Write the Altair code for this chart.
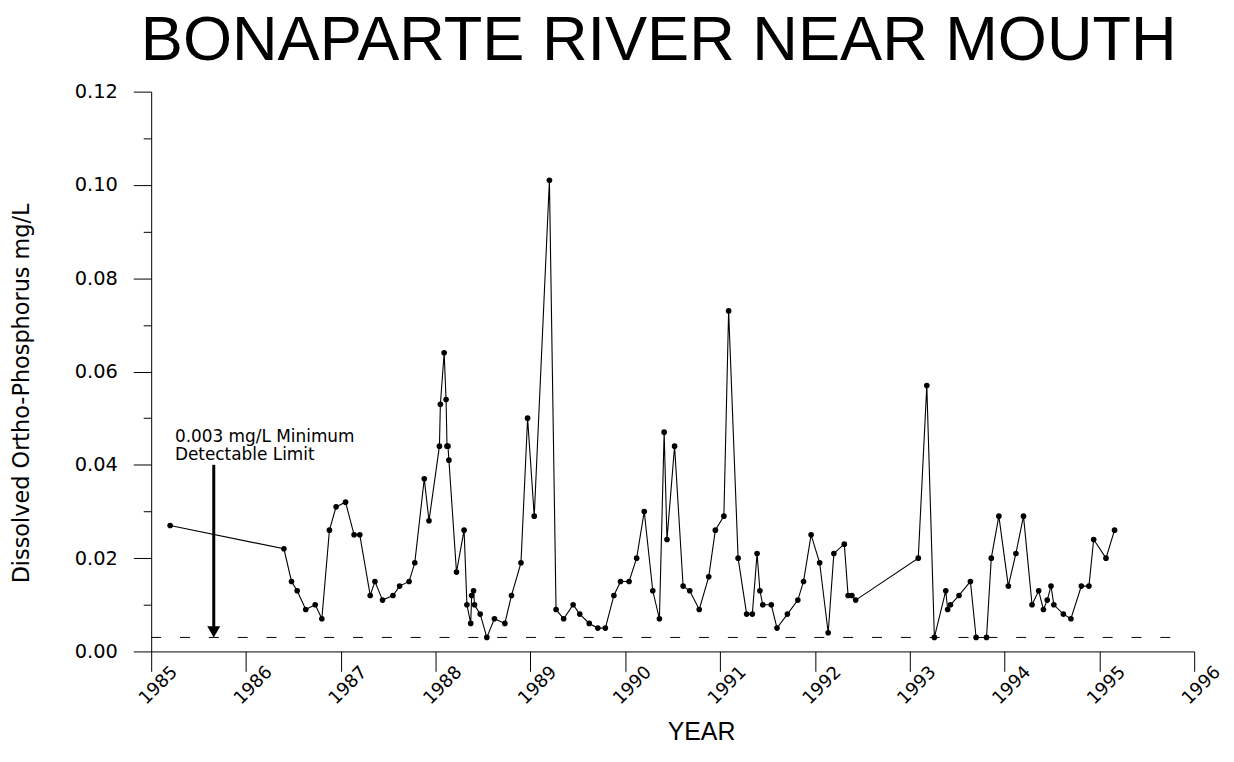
import altair as alt
import pandas as pd

# ---- data ----
years = [1985.20, 1986.40, 1986.48, 1986.54, 1986.63, 1986.73, 1986.80, 1986.88, 1986.95, 1987.05,
         1987.14, 1987.20, 1987.31, 1987.36, 1987.44, 1987.55, 1987.62, 1987.72, 1987.78, 1987.88,
         1987.93, 1988.04, 1988.05, 1988.09, 1988.11, 1988.12, 1988.13, 1988.14, 1988.22, 1988.30,
         1988.33, 1988.37, 1988.38, 1988.40, 1988.41, 1988.47, 1988.54, 1988.62, 1988.73, 1988.80,
         1988.90, 1988.97, 1989.04, 1989.20, 1989.27, 1989.35, 1989.45, 1989.52, 1989.62, 1989.71,
         1989.79, 1989.88, 1989.95, 1990.04, 1990.12, 1990.20, 1990.29, 1990.36, 1990.41, 1990.44,
         1990.52, 1990.61, 1990.68, 1990.78, 1990.88, 1990.95, 1991.04, 1991.09, 1991.19, 1991.28,
         1991.34, 1991.39, 1991.42, 1991.45, 1991.54, 1991.60, 1991.71, 1991.82, 1991.88, 1991.96,
         1992.05, 1992.14, 1992.20, 1992.31, 1992.35, 1992.39, 1992.43, 1993.09, 1993.18, 1993.26,
         1993.38, 1993.40, 1993.43, 1993.52, 1993.64, 1993.70, 1993.81, 1993.86, 1993.94, 1994.04,
         1994.12, 1994.20, 1994.29, 1994.36, 1994.41, 1994.45, 1994.49, 1994.52, 1994.62, 1994.70,
         1994.81, 1994.89, 1994.94, 1995.07, 1995.16]
values = [0.027, 0.022, 0.015, 0.013, 0.009, 0.010, 0.007, 0.026, 0.031, 0.032,
          0.025, 0.025, 0.012, 0.015, 0.011, 0.012, 0.014, 0.015, 0.019, 0.037,
          0.028, 0.044, 0.053, 0.064, 0.054, 0.044, 0.044, 0.041, 0.017, 0.026,
          0.010, 0.006, 0.012, 0.013, 0.010, 0.008, 0.003, 0.007, 0.006, 0.012,
          0.019, 0.050, 0.029, 0.101, 0.009, 0.007, 0.010, 0.008, 0.006, 0.005,
          0.005, 0.012, 0.015, 0.015, 0.020, 0.030, 0.013, 0.007, 0.047, 0.024,
          0.044, 0.014, 0.013, 0.009, 0.016, 0.026, 0.029, 0.073, 0.020, 0.008,
          0.008, 0.021, 0.013, 0.010, 0.010, 0.005, 0.008, 0.011, 0.015, 0.025,
          0.019, 0.004, 0.021, 0.023, 0.012, 0.012, 0.011, 0.020, 0.057, 0.003,
          0.013, 0.009, 0.010, 0.012, 0.015, 0.003, 0.003, 0.020, 0.029, 0.014,
          0.021, 0.029, 0.010, 0.013, 0.009, 0.011, 0.014, 0.010, 0.008, 0.007,
          0.014, 0.014, 0.024, 0.020, 0.026]

x_ticks = list(range(1985, 1997))
y_major = [0.00, 0.02, 0.04, 0.06, 0.08, 0.10, 0.12]
y_minor = [0.01, 0.03, 0.05, 0.07, 0.09, 0.11]

mdl_value = 0.003            # minimum detectable limit
mdl_start, mdl_end = 1985.0, 1995.93
arrow_year = 1985.66
arrow_top = 0.040
arrow_bottom = 0.0046
note_year = 1985.25
note_value = 0.0448
note_lines = ["0.003 mg/L Minimum", "Detectable Limit"]

title_text = "BONAPARTE RIVER NEAR MOUTH"
x_title = "YEAR"
y_title = "Dissolved Ortho-Phosphorus mg/L"

df = pd.DataFrame({"year": years, "value": values})
df_mdl = pd.DataFrame({"x": [mdl_start], "x2": [mdl_end], "y": [mdl_value]})
df_arrow = pd.DataFrame({"x": [arrow_year], "y": [arrow_top], "y2": [arrow_bottom]})
df_head = pd.DataFrame({"x": [arrow_year], "y": [mdl_value]})
df_note = pd.DataFrame({"x": [note_year], "y": [note_value], "t": [note_lines]})

TICK_FONT = "DejaVu Sans"

xscale = alt.Scale(domain=[1985, 1996], nice=False, zero=False)
yscale = alt.Scale(domain=[0, 0.12], nice=False)

xaxis = alt.Axis(
    values=x_ticks, format="d", grid=False, orient="bottom",
    labelAngle=-45, labelAlign="center", labelBaseline="middle",
    labelOffset=7, labelPadding=14, tickSize=20,
    labelFont=TICK_FONT, labelFontSize=18, labelColor="black",
    domainColor="black", tickColor="black", domainWidth=1, tickWidth=1,
    title=x_title, titleFont="Liberation Sans", titleFontSize=25,
    titleFontWeight="normal", titleColor="black",
    titleX=553, titleY=89, titleAlign="center", titleBaseline="alphabetic",
)
yaxis = alt.Axis(
    values=y_major, format=".2f", grid=False, orient="left",
    tickSize=18, labelPadding=16,
    labelFont=TICK_FONT, labelFontSize=19.5, labelColor="black",
    domainColor="black", tickColor="black", domainWidth=1, tickWidth=1,
    title=y_title, titleFont=TICK_FONT, titleFontSize=22.5,
    titleFontWeight="normal", titleColor="black",
    titleX=-130, titleY=303, titleAlign="center", titleBaseline="middle", titleAngle=-90,
)
yaxis_minor = alt.Axis(
    values=y_minor, grid=False, orient="left", labels=False, domain=False,
    tickSize=8, tickColor="black", tickWidth=1, title=None,
)

base = alt.Chart(df)

line = base.mark_line(color="black", strokeWidth=1.1).encode(
    x=alt.X("year:Q", scale=xscale, axis=xaxis),
    y=alt.Y("value:Q", scale=yscale, axis=yaxis),
)
pts = base.mark_circle(size=32, color="black", opacity=1).encode(
    x=alt.X("year:Q", scale=xscale, axis=None),
    y=alt.Y("value:Q", scale=yscale, axis=yaxis_minor),
)
mdl = alt.Chart(df_mdl).mark_rule(color="black", strokeWidth=1, strokeDash=[10, 19]).encode(
    x=alt.X("x:Q", scale=xscale, axis=None),
    x2="x2:Q",
    y=alt.Y("y:Q", scale=yscale, axis=None),
)
arrow = alt.Chart(df_arrow).mark_rule(color="black", strokeWidth=3).encode(
    x=alt.X("x:Q", scale=xscale, axis=None),
    y=alt.Y("y:Q", scale=yscale, axis=None),
    y2="y2:Q",
)
head = alt.Chart(df_head).mark_point(
    shape="triangle-down", size=170, filled=True, color="black", opacity=1, yOffset=-5.6
).encode(
    x=alt.X("x:Q", scale=xscale, axis=None),
    y=alt.Y("y:Q", scale=yscale, axis=None),
)
note = alt.Chart(df_note).mark_text(
    align="left", baseline="alphabetic", font=TICK_FONT, fontSize=17,
    lineHeight=18, color="black"
).encode(
    x=alt.X("x:Q", scale=xscale, axis=None),
    y=alt.Y("y:Q", scale=yscale, axis=None),
    text="t",
)

chart = alt.layer(line, pts, mdl, arrow, head, note).resolve_scale(
    x="shared", y="shared"
).resolve_axis(
    x="independent", y="independent"
).properties(
    width=1049, height=563,
    background="white",
    title=alt.TitleParams(
        title_text, font="Liberation Sans", fontSize=63.5, fontWeight="normal",
        color="black", anchor="middle", dx=-14, offset=8,
    ),
    autosize=alt.AutoSizeParams(type="none"),
    padding={"left": 144, "top": 82, "right": 32, "bottom": 94},
).configure_view(stroke=None)

chart.save("out.html", embed_options={"renderer": "svg", "actions": False})
